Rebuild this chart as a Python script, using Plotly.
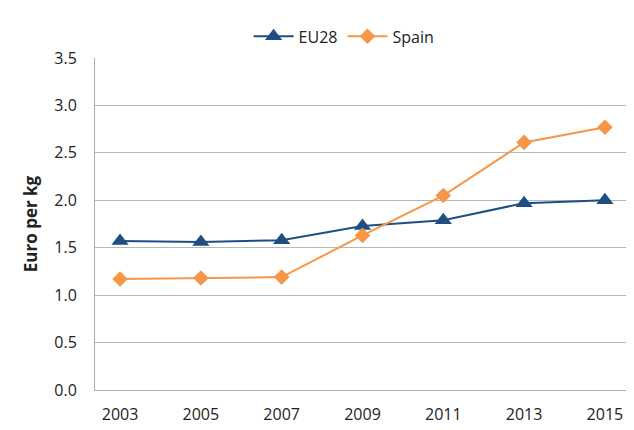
import plotly.graph_objects as go

years = [2003, 2005, 2007, 2009, 2011, 2013, 2015]
eu28 = [1.57, 1.56, 1.58, 1.73, 1.79, 1.97, 2.00]
spain = [1.17, 1.18, 1.19, 1.63, 2.05, 2.61, 2.77]
y_ticks = [0.0, 0.5, 1.0, 1.5, 2.0, 2.5, 3.0, 3.5]

fig = go.Figure()
fig.add_trace(go.Scatter(
    x=years, y=eu28, name="EU28", mode="lines+markers",
    line=dict(color="#1f4e82", width=2),
    marker=dict(symbol="triangle-up", size=15, color="#1f4e82"),
))
fig.add_trace(go.Scatter(
    x=years, y=spain, name="Spain", mode="lines+markers",
    line=dict(color="#f79646", width=2),
    marker=dict(symbol="diamond", size=12, color="#f79646"),
))

# page body has an 8px margin, so the figure is drawn 8px smaller and shifted
fig.update_layout(
    width=626, height=422,
    margin=dict(l=87, r=0, t=50, b=40, autoexpand=False),
    paper_bgcolor="white", plot_bgcolor="white",
    font=dict(family="Open Sans, Noto Sans, sans-serif", size=16, color="#222"),
    legend=dict(
        orientation="h", x=0.285, xanchor="left", y=1.065, yanchor="middle",
        font=dict(size=16), itemwidth=40,
    ),
    xaxis=dict(
        range=[2002.38, 2015.72], tickvals=years, ticktext=[str(y) for y in years],
        showgrid=False, showline=True, linecolor="#a8b4ba", linewidth=1,
        ticks="", zeroline=False, ticklabelstandoff=10,
    ),
    yaxis=dict(
        range=[0, 3.5], tickvals=y_ticks, ticktext=[f"{v:.1f}" for v in y_ticks],
        showgrid=True, gridcolor="#b4b9bc", gridwidth=1,
        showline=True, linecolor="#b8aaa6", linewidth=1, zeroline=False,
        title=dict(text="<b>Euro per kg</b>", font=dict(size=17), standoff=12),
        ticks="", ticklabelstandoff=14,
    ),
)

fig.write_html("out.html")
